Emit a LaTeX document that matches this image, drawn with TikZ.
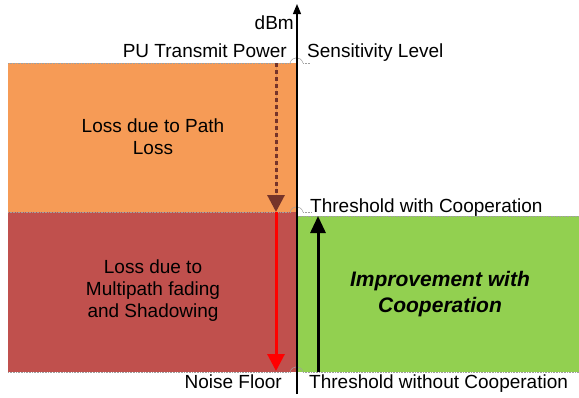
\documentclass[tikz,border=0pt]{standalone}
\usepackage{fontspec}
\setmainfont{Liberation Sans}
\usetikzlibrary{arrows.meta}

\definecolor{pathOrange}{RGB}{246,155,86}
\definecolor{fadeRed}{RGB}{192,80,77}
\definecolor{coopGreen}{RGB}{146,208,80}
\definecolor{lossBrown}{RGB}{118,52,42}

\begin{document}
\begin{tikzpicture}[x=1pt, y=-1pt,
        levelLine/.style={draw=gray!75, densely dotted, line width=0.6pt},
        regionText/.style={align=center, inner sep=0pt, font=\fontsize{19}{22}\selectfont},
        levelText/.style={inner sep=0pt, font=\fontsize{19}{22}\selectfont},
        hop/.style={draw=gray!75, line width=0.5pt},
        bigTip/.style={-{Triangle[width=17pt, length=17pt]}, line width=3pt}
    ]
        \useasboundingbox (0,0) rectangle (579,397);

        % regions
        \fill[pathOrange] (8,63) rectangle (296,212);
        \fill[fadeRed] (8,212) rectangle (296,372);
        \fill[coopGreen] (298,216) rectangle (579,372);

        % level lines with hops over the axis
        \draw[levelLine] (8,63) -- (290,63);
        \draw[levelLine] (303,63) -- (310,63);
        \draw[levelLine] (8,212) -- (290,212);
        \draw[levelLine] (303,212) -- (312,212);
        \draw[levelLine] (298,216) -- (579,216);
        \draw[levelLine] (8,372) -- (290,372);
        \draw[levelLine] (303,372) -- (579,372);
        \draw[hop] (290,63) .. controls (292,56) and (301,56) .. (303,63);
        \draw[hop] (290,212) .. controls (292,205) and (301,205) .. (303,212);
        \draw[hop] (290,372) .. controls (292,365) and (301,365) .. (303,372);

        % axis
        \coordinate (axisLow) at (297,394);
        \coordinate (axisTop) at (297,4);
        \draw[line width=1.2pt, -{Triangle[width=8pt, length=10pt]}] (axisLow) -- (axisTop);

        % levels on the arrows
        \coordinate (txPower) at (276,63);
        \coordinate (withCoop) at (276,212);
        \coordinate (noiseFloor) at (276,371);
        \coordinate (coopLow) at (318,372);
        \coordinate (coopHigh) at (318,216);

        \draw[bigTip, draw=lossBrown, fill=lossBrown, dash pattern=on 4pt off 3pt] (txPower) -- (withCoop);
        \draw[bigTip, draw=red, fill=red] (withCoop) -- (noiseFloor);
        \draw[-{Triangle[width=15pt, length=17pt]}, line width=3pt] (coopLow) -- (coopHigh);

        % labels
        \node[levelText, anchor=base east] (dbm) at (294,29) {dBm};
        \node[levelText, anchor=base east] (puPower) at (287,57) {PU Transmit Power};
        \node[levelText, anchor=base west] (sensLevel) at (307,57) {Sensitivity Level};
        \node[levelText, anchor=base west] (thrWith) at (310,212) {Threshold with Cooperation};
        \node[levelText, anchor=base east] (noiseLbl) at (282,388) {Noise Floor};
        \node[levelText, anchor=base west] (thrWithout) at (309,388) {Threshold without Cooperation};

        \node[regionText] (pathLoss) at (153,137) {Loss due to Path\\Loss};
        \node[regionText] (fading) at (153,291) {Loss due to\\Multipath fading\\and Shadowing};
        \node[regionText, font=\fontsize{21}{26}\selectfont\bfseries\itshape] (improve) at (440,294) {Improvement with\\Cooperation};
    \end{tikzpicture}
\end{document}
